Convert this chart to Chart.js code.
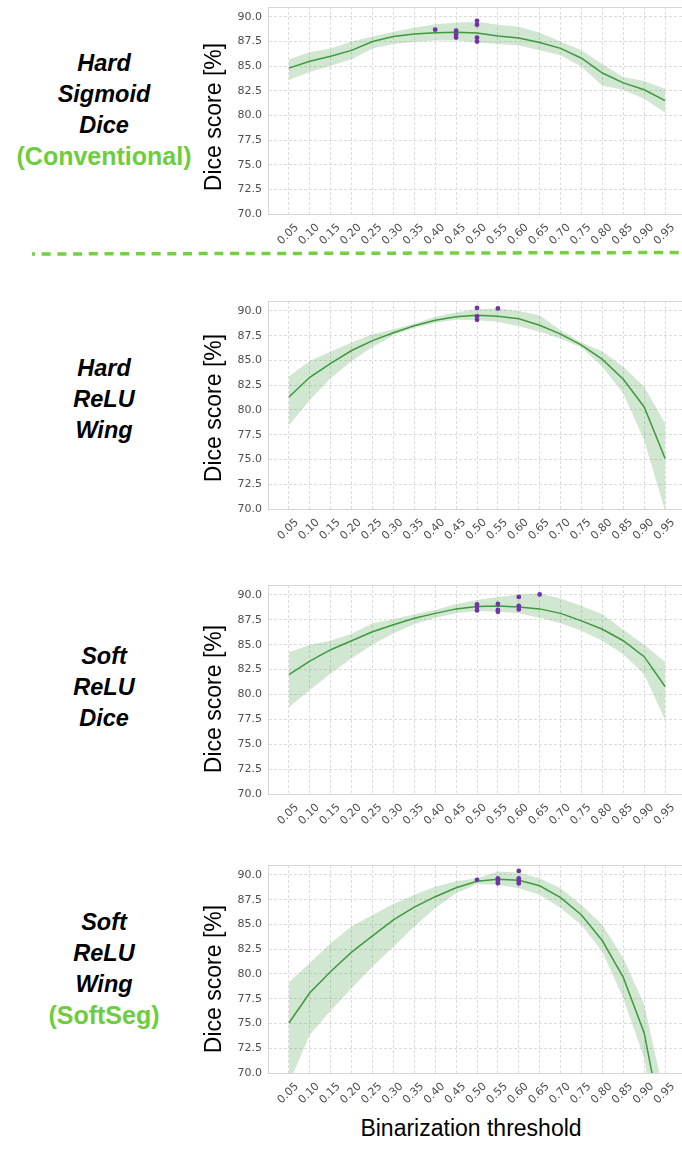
<!DOCTYPE html>
<html><head><meta charset="utf-8">
<script src="https://cdn.jsdelivr.net/npm/chart.js@4.4.0/dist/chart.umd.min.js"></script>
<style>
html,body{margin:0;padding:0;background:#fff;width:682px;height:1150px;overflow:hidden;position:relative}
canvas{position:absolute}
.lab{position:absolute;left:0;width:208px;text-align:center;font-family:"Liberation Sans",Arial,sans-serif;font-weight:bold;line-height:31px}
.lab span{display:block}
.lab .b{font-style:italic;font-size:23.5px;color:#000}
.lab .g{font-size:25px;color:#6dcd3f}
.yt{position:absolute;left:213px;white-space:nowrap;font-family:"Liberation Sans",Arial,sans-serif;font-size:23px;color:#000;line-height:28px;transform:translate(-50%,-50%) rotate(-90deg)}
#xt{position:absolute;left:471px;top:1114px;transform:translateX(-50%);white-space:nowrap;font-family:"Liberation Sans",Arial,sans-serif;font-size:23px;color:#000;line-height:28px}
svg{position:absolute;left:0;top:0}
</style></head><body>
<div class="lab" style="top:47.5px"><span class="b">Hard</span><span class="b">Sigmoid</span><span class="b">Dice</span><span class="g">(Conventional)</span></div>
<div class="lab" style="top:352.5px"><span class="b">Hard</span><span class="b">ReLU</span><span class="b">Wing</span></div>
<div class="lab" style="top:640.5px"><span class="b">Soft</span><span class="b">ReLU</span><span class="b">Dice</span></div>
<div class="lab" style="top:906.5px"><span class="b">Soft</span><span class="b">ReLU</span><span class="b">Wing</span><span class="g">(SoftSeg)</span></div>
<svg width="682" height="270"><line x1="32" y1="254" x2="682" y2="252.5" stroke="#74cf41" stroke-width="3.5" stroke-dasharray="9 6.7" stroke-dashoffset="6"/></svg>
<canvas id="c1" width="500" height="254" style="left:190px;top:0px"></canvas>
<canvas id="c2" width="500" height="255" style="left:190px;top:294px"></canvas>
<canvas id="c3" width="500" height="256" style="left:190px;top:578px"></canvas>
<canvas id="c4" width="500" height="255" style="left:190px;top:858px"></canvas>
<div class="yt" style="top:117px">Dice score [%]</div>
<div class="yt" style="top:408px">Dice score [%]</div>
<div class="yt" style="top:699px">Dice score [%]</div>
<div class="yt" style="top:979px">Dice score [%]</div>
<div id="xt">Binarization threshold</div>
<script>
const thresholds = [0.05,0.10,0.15,0.20,0.25,0.30,0.35,0.40,0.45,0.50,0.55,0.60,0.65,0.70,0.75,0.80,0.85,0.90,0.95];
const xTickLabels = ["0.05","0.10","0.15","0.20","0.25","0.30","0.35","0.40","0.45","0.50","0.55","0.60","0.65","0.70","0.75","0.80","0.85","0.90","0.95"];
const yTickValues = [70,72.5,75,77.5,80,82.5,85,87.5,90];
const yTickLabels = ["70.0","72.5","75.0","77.5","80.0","82.5","85.0","87.5","90.0"];

// Hard Sigmoid Dice (Conventional)
const hsdMean  = [84.8,85.5,86.0,86.6,87.5,88.0,88.25,88.4,88.45,88.35,88.05,87.85,87.4,86.8,85.8,84.3,83.3,82.6,81.5];
const hsdUpper = [85.7,86.4,86.8,87.5,88.0,88.5,88.9,89.25,89.4,89.5,89.2,89.0,88.4,87.5,86.6,85.2,83.9,83.5,82.7];
const hsdLower = [83.6,84.4,85.05,85.7,86.8,87.25,87.45,87.6,87.6,87.4,87.25,87.1,86.6,86.1,84.95,83.0,82.6,81.7,80.3];
const hsdPtsX  = [0.40,0.45,0.45,0.45,0.50,0.50,0.50,0.50];
const hsdPtsY  = [88.7,88.6,88.2,87.9,89.6,89.2,87.9,87.5];

// Hard ReLU Wing
const hrwMean  = [81.3,83.3,84.7,86.0,87.0,87.8,88.5,89.05,89.4,89.55,89.45,89.2,88.55,87.65,86.55,85.1,83.1,80.3,75.1];
const hrwUpper = [83.4,84.95,85.9,86.8,87.65,88.15,88.7,89.4,89.85,90.2,90.25,90.0,89.55,88.05,86.8,85.9,84.35,82.35,78.65];
const hrwLower = [78.45,81.0,83.2,84.95,86.35,87.55,88.3,88.8,89.1,89.05,88.9,88.45,87.9,87.2,86.3,84.35,81.65,76.95,69.8];
const hrwPtsX  = [0.50,0.50,0.50,0.55];
const hrwPtsY  = [90.3,89.45,89.1,90.25];

// Soft ReLU Dice
const srdMean  = [82.0,83.35,84.5,85.4,86.3,87.0,87.65,88.15,88.6,88.85,88.9,88.8,88.6,88.15,87.4,86.55,85.4,83.8,80.8];
const srdUpper = [84.25,85.0,85.4,86.1,87.15,87.55,88.05,88.5,89.1,89.5,89.8,90.05,90.15,89.65,88.9,88.05,86.5,85.0,83.25];
const srdLower = [78.7,80.45,82.1,83.65,85.0,86.15,87.05,87.7,88.15,88.4,88.3,88.15,87.7,87.15,86.4,85.4,84.05,82.0,77.45];
const srdPtsX  = [0.50,0.50,0.50,0.55,0.55,0.55,0.60,0.60,0.60,0.65];
const srdPtsY  = [89.05,88.8,88.45,89.1,88.5,88.3,89.8,88.9,88.55,90.05];

// Soft ReLU Wing (SoftSeg)
const srwMean  = [75.05,78.1,80.25,82.2,83.85,85.45,86.75,87.8,88.7,89.35,89.55,89.45,88.9,87.7,85.95,83.35,79.65,74.05,63.1];
const srwUpper = [79.15,81.1,83.1,84.8,85.95,87.05,88.0,88.8,89.35,89.65,90.35,90.25,89.65,88.65,86.95,84.95,81.6,76.9,67.4];
const srwLower = [69.0,73.85,76.3,78.55,80.75,82.75,84.8,86.65,88.15,89.05,89.0,88.65,88.0,86.65,84.95,82.25,77.55,71.5,58.0];
const srwPtsX  = [0.50,0.55,0.55,0.55,0.60,0.60,0.60,0.60];
const srwPtsY  = [89.5,89.65,89.4,89.15,90.4,89.65,89.4,89.15];

const LINE = '#3d9a3d', BAND = 'rgba(61,154,61,0.24)', PT = '#7232a8';
const GRID = '#dcdcdc', SPINE = '#d6d6d6', TICK = '#4d4d4d';

const topBorder = {
  id: 'topBorder',
  beforeDatasetsDraw(c) {
    const a = c.chartArea, ctx = c.ctx;
    ctx.save(); ctx.strokeStyle = SPINE; ctx.lineWidth = 1;
    ctx.beginPath(); ctx.moveTo(a.left, a.top + 0.5); ctx.lineTo(a.right, a.top + 0.5); ctx.stroke();
    ctx.restore();
  }
};

function xy(arr) { return thresholds.map((t, i) => ({x: t, y: arr[i]})); }

function makeChart(id, mean, upper, lower, px, py) {
  new Chart(document.getElementById(id), {
    type: 'line',
    data: {
      datasets: [
        {type: 'scatter', data: px.map((x, i) => ({x: x, y: py[i]})), backgroundColor: PT, borderColor: PT, borderWidth: 0, pointRadius: 2.4, showLine: false},
        {data: xy(mean), borderColor: LINE, borderWidth: 1.5, pointRadius: 0, fill: false, tension: 0},
        {data: xy(upper), borderColor: 'rgba(0,0,0,0)', borderWidth: 0, pointRadius: 0, backgroundColor: BAND, fill: '+1', tension: 0},
        {data: xy(lower), borderColor: 'rgba(0,0,0,0)', borderWidth: 0, pointRadius: 0, fill: false, tension: 0}
      ]
    },
    options: {
      responsive: false, animation: false,
      layout: {padding: {top: 7, left: 0, right: 0, bottom: 0}},
      plugins: {legend: {display: false}, tooltip: {enabled: false}},
      scales: {
        x: {
          type: 'linear', min: 0, max: 1,
          afterBuildTicks: s => { s.ticks = thresholds.map(v => ({value: v})); },
          afterFit: s => { s.height = 40; s.paddingLeft = 0; s.paddingRight = 0; },
          ticks: {autoSkip: false, minRotation: 45, maxRotation: 45, padding: 7, labelOffset: 8, color: TICK,
                  font: {family: 'DejaVu Sans', size: 11}, callback: (v, i) => xTickLabels[i]},
          grid: {color: GRID, lineWidth: 1, drawTicks: false},
          border: {color: SPINE, dash: [3, 2]}
        },
        y: {
          min: 70, max: 91,
          afterBuildTicks: s => { s.ticks = yTickValues.map(v => ({value: v})); },
          afterFit: s => { s.width = 78; s.paddingTop = 0; s.paddingBottom = 0; },
          ticks: {padding: 6, color: TICK, font: {family: 'DejaVu Sans', size: 11},
                  callback: (v, i) => yTickLabels[i]},
          grid: {color: GRID, lineWidth: 1, drawTicks: false},
          border: {color: SPINE, dash: [3, 2]}
        }
      }
    },
    plugins: [topBorder]
  });
}

makeChart('c1', hsdMean, hsdUpper, hsdLower, hsdPtsX, hsdPtsY);
makeChart('c2', hrwMean, hrwUpper, hrwLower, hrwPtsX, hrwPtsY);
makeChart('c3', srdMean, srdUpper, srdLower, srdPtsX, srdPtsY);
makeChart('c4', srwMean, srwUpper, srwLower, srwPtsX, srwPtsY);
</script>
</body></html>
